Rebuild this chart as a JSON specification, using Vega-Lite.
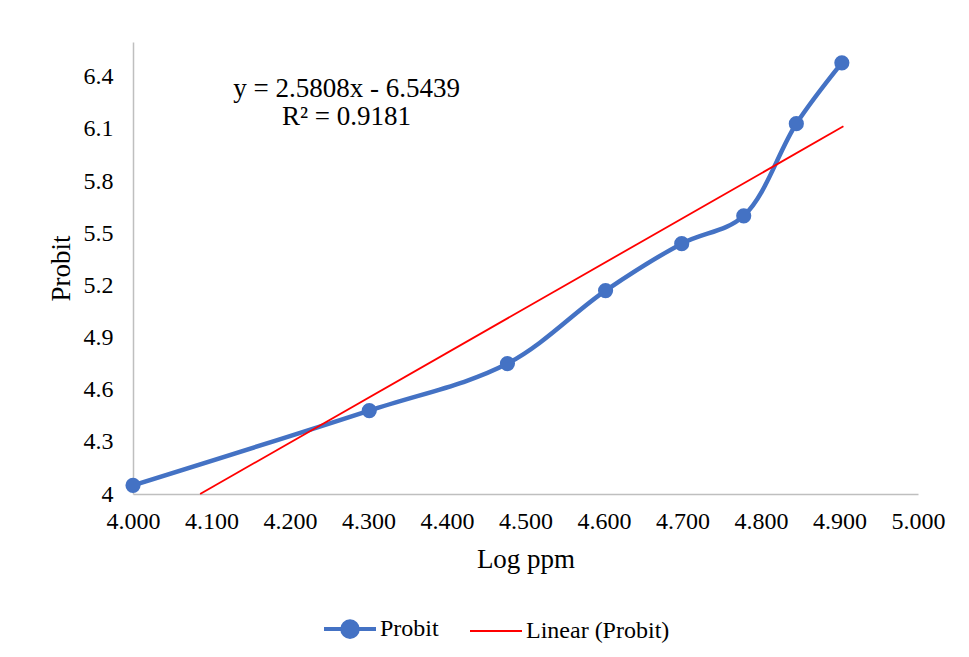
{
  "$schema": "https://vega.github.io/schema/vega-lite/v6.json",
  "width": 785,
  "height": 452,
  "autosize": {"type": "none"},
  "padding": {"left": 133, "top": 42, "right": 51, "bottom": 163},
  "background": "white",
  "config": {
    "font": "Liberation Serif",
    "view": {"stroke": null},
    "axis": {
      "grid": false,
      "ticks": false,
      "domainColor": "#bfbfbf",
      "domainWidth": 1.5,
      "labelFont": "Liberation Serif",
      "labelFontSize": 24,
      "labelColor": "#000000",
      "labelFlush": false,
      "labelBound": false,
      "labelOverlap": false,
      "titleFont": "Liberation Serif",
      "titleFontSize": 27,
      "titleFontWeight": "normal",
      "titleColor": "#000000"
    }
  },
  "datasets": {
    "probit": [
      {"logppm": 4.0, "probit": 4.05, "series": "Probit"},
      {"logppm": 4.301, "probit": 4.48, "series": "Probit"},
      {"logppm": 4.477, "probit": 4.75, "series": "Probit"},
      {"logppm": 4.602, "probit": 5.17, "series": "Probit"},
      {"logppm": 4.699, "probit": 5.44, "series": "Probit"},
      {"logppm": 4.778, "probit": 5.6, "series": "Probit"},
      {"logppm": 4.845, "probit": 6.13, "series": "Probit"},
      {"logppm": 4.903, "probit": 6.48, "series": "Probit"}
    ],
    "trend": [
      {"logppm": 4.0855, "probit": 4.0, "series": "Linear (Probit)"},
      {"logppm": 4.905, "probit": 6.115, "series": "Linear (Probit)"}
    ],
    "labels": [
      {"logppm": 4.272, "probit": 6.284, "label": "y = 2.5808x - 6.5439"},
      {"logppm": 4.272, "probit": 6.123, "label": "R² = 0.9181"}
    ]
  },
  "encoding": {
    "x": {
      "field": "logppm",
      "type": "quantitative",
      "scale": {"domain": [4, 5], "nice": false, "zero": false},
      "axis": {"values": [4.0, 4.1, 4.2, 4.3, 4.4, 4.5, 4.6, 4.7, 4.8, 4.9, 5.0], "format": ".3f", "labelPadding": 15, "title": "Log ppm", "titlePadding": 13}
    },
    "y": {
      "field": "probit",
      "type": "quantitative",
      "scale": {"domain": [4, 6.6], "nice": false, "zero": false},
      "axis": {"values": [4, 4.3, 4.6, 4.9, 5.2, 5.5, 5.8, 6.1, 6.4], "format": "~g", "labelPadding": 20, "title": "Probit", "titlePadding": 8}
    }
  },
  "layer": [
    {
      "data": {"name": "probit"},
      "mark": {"type": "line", "interpolate": "catmull-rom", "strokeWidth": 4.5},
      "encoding": {
        "color": {
          "field": "series",
          "type": "nominal",
          "scale": {"domain": ["Probit", "Linear (Probit)"], "range": ["#4472C4", "#ff0000"]},
          "legend": {
            "title": null,
            "orient": "none",
            "direction": "horizontal",
            "legendX": 190,
            "legendY": 560,
            "symbolSize": 2704,
            "symbolStrokeWidth": 4,
            "labelFont": "Liberation Serif",
            "labelFontSize": 24,
            "labelColor": "#000000",
            "labelOffset": 3,
            "columnPadding": 27,
            "encode": {
              "symbols": {
                "update": {
                  "shape": {"signal": "(datum.value === 'Probit' ? 'M-1,0H1M-0.3,0A0.3,0.3,0,1,1,0.3,0A0.3,0.3,0,1,1,-0.3,0Z' : 'M-1,0H1')"},
                  "fill": {"signal": "(datum.value === 'Probit' ? '#4472C4' : 'transparent')"},
                  "strokeWidth": {"signal": "(datum.value === 'Probit' ? 4 : 2)"}
                }
              }
            }
          }
        }
      }
    },
    {
      "data": {"name": "probit"},
      "mark": {"type": "point", "filled": true, "size": 230, "opacity": 1, "color": "#4472C4"},
      "encoding": {}
    },
    {
      "data": {"name": "trend"},
      "mark": {"type": "line", "strokeWidth": 1.8},
      "encoding": {
        "color": {"field": "series", "type": "nominal"}
      }
    },
    {
      "data": {"name": "labels"},
      "mark": {"type": "text", "font": "Liberation Serif", "fontSize": 27, "color": "#000000", "align": "center", "baseline": "alphabetic"},
      "encoding": {"text": {"field": "label"}}
    }
  ]
}
